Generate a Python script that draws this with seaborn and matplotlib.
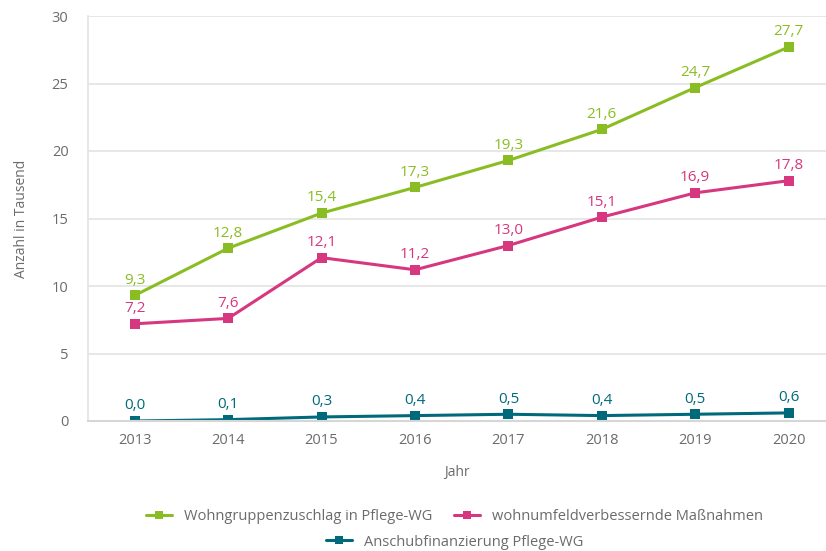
import pandas as pd
import numpy as np
import seaborn as sns
import matplotlib.pyplot as plt

# data (values in thousands)
years = ["2013", "2014", "2015", "2016", "2017", "2018", "2019", "2020"]
wohngruppen = [9.3, 12.8, 15.4, 17.3, 19.3, 21.6, 24.7, 27.7]
wohnumfeld = [7.2, 7.6, 12.1, 11.2, 13.0, 15.1, 16.9, 17.8]
anschub = [0.0, 0.1, 0.3, 0.4, 0.5, 0.4, 0.5, 0.6]

series_names = ["Wohngruppenzuschlag in Pflege-WG",
                "wohnumfeldverbessernde Maßnahmen",
                "Anschubfinanzierung Pflege-WG"]
series_colors = ["#8abd24", "#d6377f", "#006a7a"]

df = pd.DataFrame({
    "Jahr": years * 3,
    "Wert": wohngruppen + wohnumfeld + anschub,
    "Reihe": np.repeat(series_names, len(years)),
})
df["pos"] = df["Jahr"].map({y: i for i, y in enumerate(years)})

sns.set_style("white")
plt.rcParams["font.family"] = ["Open Sans", "DejaVu Sans"]
text_grey = "#6b6b6b"

fig = plt.figure(figsize=(8.26, 5.51), dpi=100)
ax = fig.add_axes([88 / 826, 130 / 551, 1 - 88 / 826, 405 / 551])

palette = dict(zip(series_names, series_colors))
sns.lineplot(data=df, x="pos", y="Wert", hue="Reihe", palette=palette,
             marker="s", markersize=7.5, markeredgewidth=0, linewidth=2.2,
             ax=ax, legend=False)

# value labels above each point
for name, col in zip(series_names, series_colors):
    sub = df[df["Reihe"] == name]
    for x, v in zip(sub["pos"], sub["Wert"]):
        ax.annotate(f"{v:.1f}".replace(".", ","), (x, v), xytext=(0, 5.5),
                    textcoords="offset points", ha="center", va="bottom",
                    fontsize=11, color=col)

ax.set_xlim(-0.5, 7.4)
ax.set_ylim(0, 30)
ax.set_yticks(range(0, 31, 5))
ax.set_xticks(range(len(years)))
ax.set_xticklabels(years)
ax.yaxis.grid(True, color="#e3e3e3", linewidth=1.2)
ax.set_axisbelow(True)
for s in ["top", "right"]:
    ax.spines[s].set_visible(False)
ax.spines["left"].set_color("#e3e3e3")
ax.spines["left"].set_linewidth(1.2)
ax.spines["bottom"].set_color("#d6d6d6")
ax.spines["bottom"].set_linewidth(1.5)
ax.tick_params(axis="both", length=0, labelsize=10.5, labelcolor=text_grey)
ax.tick_params(axis="y", pad=14)
ax.tick_params(axis="x", pad=9)
ax.set_xlabel("Jahr", fontsize=10, color=text_grey, labelpad=12)
ax.set_ylabel("Anzahl in Tausend", fontsize=10, color=text_grey, labelpad=16)

# legend: two items on first row, one centered on second
handles = [plt.Line2D([], [], color=c, marker="s", markersize=6, linewidth=2.2,
                      markeredgewidth=0) for c in series_colors]
fig.legend(handles[:2], series_names[:2], loc="center",
           bbox_to_anchor=(0.55, 34 / 551), ncol=2, frameon=False,
           fontsize=10.5, handlelength=1.8, columnspacing=1.5,
           labelcolor=text_grey)
fig.legend(handles[2:], series_names[2:], loc="center",
           bbox_to_anchor=(0.55, 9 / 551), frameon=False,
           fontsize=10.5, handlelength=1.8, labelcolor=text_grey)

plt.savefig("out.png", dpi=100)
plt.close()
